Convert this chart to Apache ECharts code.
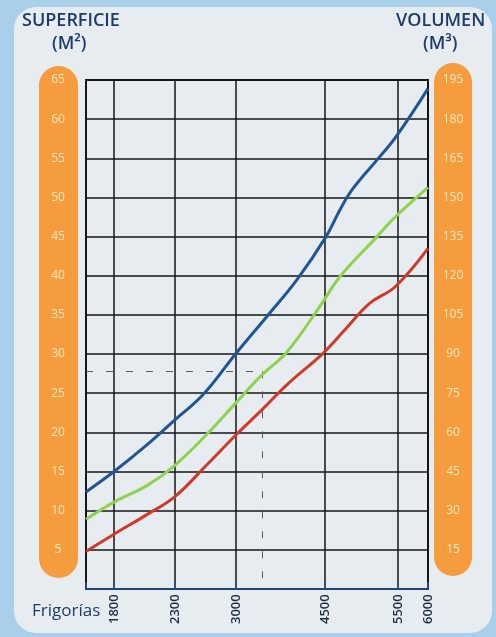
<!DOCTYPE html>
<html>
<head>
<meta charset="utf-8">
<script src="https://cdn.jsdelivr.net/npm/echarts@6/dist/echarts.min.js"></script>
<style>
  html,body{margin:0;padding:0;background:#a9cfea;}
  #chart{width:496px;height:637px;}
</style>
</head>
<body>
<div id="chart"></div>
<script>
// marcas de frigorias impresas y su posicion en el eje (0-100)
var frigorias = ['1800', '2300', '3000', '4500', '5500', '6000'];
var frigoriaPos = [8.2, 26.0, 43.9, 69.9, 91.2, 100];

// curvas: posicion en el eje x / superficie m2
var posAzul = [0, 8.2, 17.8, 26.0, 34.2, 43.9, 52.9, 61.7, 70.2, 74.0, 77.5, 85.1, 90.4, 100];
var supAzul = [12.4, 15.0, 18.4, 21.6, 24.8, 30.1, 34.8, 39.5, 45.0, 48.2, 50.8, 54.8, 57.6, 63.9];

var posVerde = [0, 8.2, 17.8, 26.0, 35.2, 43.9, 50.9, 58.8, 68.4, 74.3, 85.1, 90.4, 100];
var supVerde = [8.9, 11.1, 13.2, 15.8, 19.7, 23.8, 27.1, 30.3, 36.1, 39.9, 45.0, 47.5, 51.3];

var posRojo = [0, 8.2, 17.8, 26.0, 35.2, 43.9, 51.5, 58.8, 69.3, 75.7, 83.0, 90.4, 100];
var supRojo = [4.8, 7.0, 9.5, 11.8, 15.8, 19.7, 22.9, 26.1, 30.1, 33.1, 36.5, 38.6, 43.5];

// lineas a lapiz (ejemplo de lectura)
var guiaX = 51.5;
var guiaY = 27.8;

function pares(xs, ys) {
    return xs.map(function (x, i) { return [x, ys[i]]; });
}

var azulOscuro = '#1d3c6a';
var naranja = '#f49c3e';
var etiquetaNaranja = '#fde7bd';

var myChart = echarts.init(document.getElementById('chart'));

var option = {
    backgroundColor: '#a9cfea',
    animation: false,
    textStyle: { fontFamily: 'Open Sans' },
    graphic: [
        { type: 'rect', z: -10, shape: { x: 14, y: 7, width: 478, height: 626, r: 22 }, style: { fill: '#e7ecf0' } },
        { type: 'rect', z: -5, shape: { x: 39, y: 66, width: 39, height: 512, r: 19.5 }, style: { fill: naranja } },
        { type: 'rect', z: -5, shape: { x: 434, y: 63, width: 38, height: 513, r: 19 }, style: { fill: naranja } },
        { type: 'text', left: 22, top: 12, style: { text: 'SUPERFICIE', fill: azulOscuro, font: '600 18px "Open Sans"' } },
        { type: 'text', left: 52, top: 35, style: { text: '(M²)', fill: azulOscuro, font: '600 18px "Open Sans"' } },
        { type: 'text', left: 396, top: 12, style: { text: 'VOLUMEN', fill: azulOscuro, font: '600 18px "Open Sans"' } },
        { type: 'text', left: 423, top: 35, style: { text: '(M³)', fill: azulOscuro, font: '600 18px "Open Sans"' } },
        { type: 'text', left: 32, top: 603, style: { text: 'Frigorías', fill: azulOscuro, font: '17px "Open Sans"' } }
    ],
    grid: {
        left: 86, right: 68, top: 80, bottom: 48,
        show: true, borderColor: '#161616', borderWidth: 2, backgroundColor: 'transparent'
    },
    xAxis: {
        type: 'value', min: 0, max: 100,
        position: 'bottom', offset: 41,
        axisLine: { show: true, lineStyle: { color: '#2a5690', width: 1.5 } },
        axisTick: { show: true, inside: true, length: 7, customValues: [0].concat(frigoriaPos), lineStyle: { color: '#2a5690', width: 1.5 } },
        axisLabel: {
            inside: true, rotate: 90, margin: 6, customValues: frigoriaPos,
            color: '#1c2c44', fontSize: 13, fontWeight: 600,
            formatter: function (v) {
                var i = frigoriaPos.indexOf(v);
                return i >= 0 ? frigorias[i] : '';
            }
        },
        splitLine: { show: true, lineStyle: { color: '#161616', width: 1.5 } }
    },
    yAxis: [
        {
            type: 'value', min: 0, max: 65, interval: 5, position: 'left',
            axisLine: { show: false }, axisTick: { show: false },
            axisLabel: {
                margin: 28, align: 'center', color: etiquetaNaranja, fontSize: 12,
                formatter: function (v) { return v === 0 ? '' : v; }
            },
            splitLine: { show: true, lineStyle: { color: '#161616', width: 1.5 } }
        },
        {
            type: 'value', min: 0, max: 195, interval: 15, position: 'right',
            axisLine: { show: false }, axisTick: { show: false },
            axisLabel: {
                margin: 25, align: 'center', color: etiquetaNaranja, fontSize: 12,
                formatter: function (v) { return v === 0 ? '' : v; }
            },
            splitLine: { show: false }
        }
    ],
    series: [
        {
            type: 'line', name: 'azul', data: pares(posAzul, supAzul),
            symbol: 'none', smooth: 0.4, z: 5,
            lineStyle: { color: '#1f5796', width: 3 },
            markLine: {
                silent: true, symbol: 'none', label: { show: false },
                lineStyle: { color: '#5a5a5a', width: 1, type: [7, 13] },
                data: [
                    [{ coord: [0, guiaY] }, { coord: [guiaX, guiaY] }],
                    [{ coord: [guiaX, guiaY] }, { coord: [guiaX, 0] }]
                ]
            }
        },
        {
            type: 'line', name: 'verde', data: pares(posVerde, supVerde),
            symbol: 'none', smooth: 0.4, z: 5,
            lineStyle: { color: '#8fd24e', width: 3 }
        },
        {
            type: 'line', name: 'rojo', data: pares(posRojo, supRojo),
            symbol: 'none', smooth: 0.4, z: 5,
            lineStyle: { color: '#cf3a2a', width: 3 }
        }
    ]
};

myChart.setOption(option);
</script>
</body>
</html>
